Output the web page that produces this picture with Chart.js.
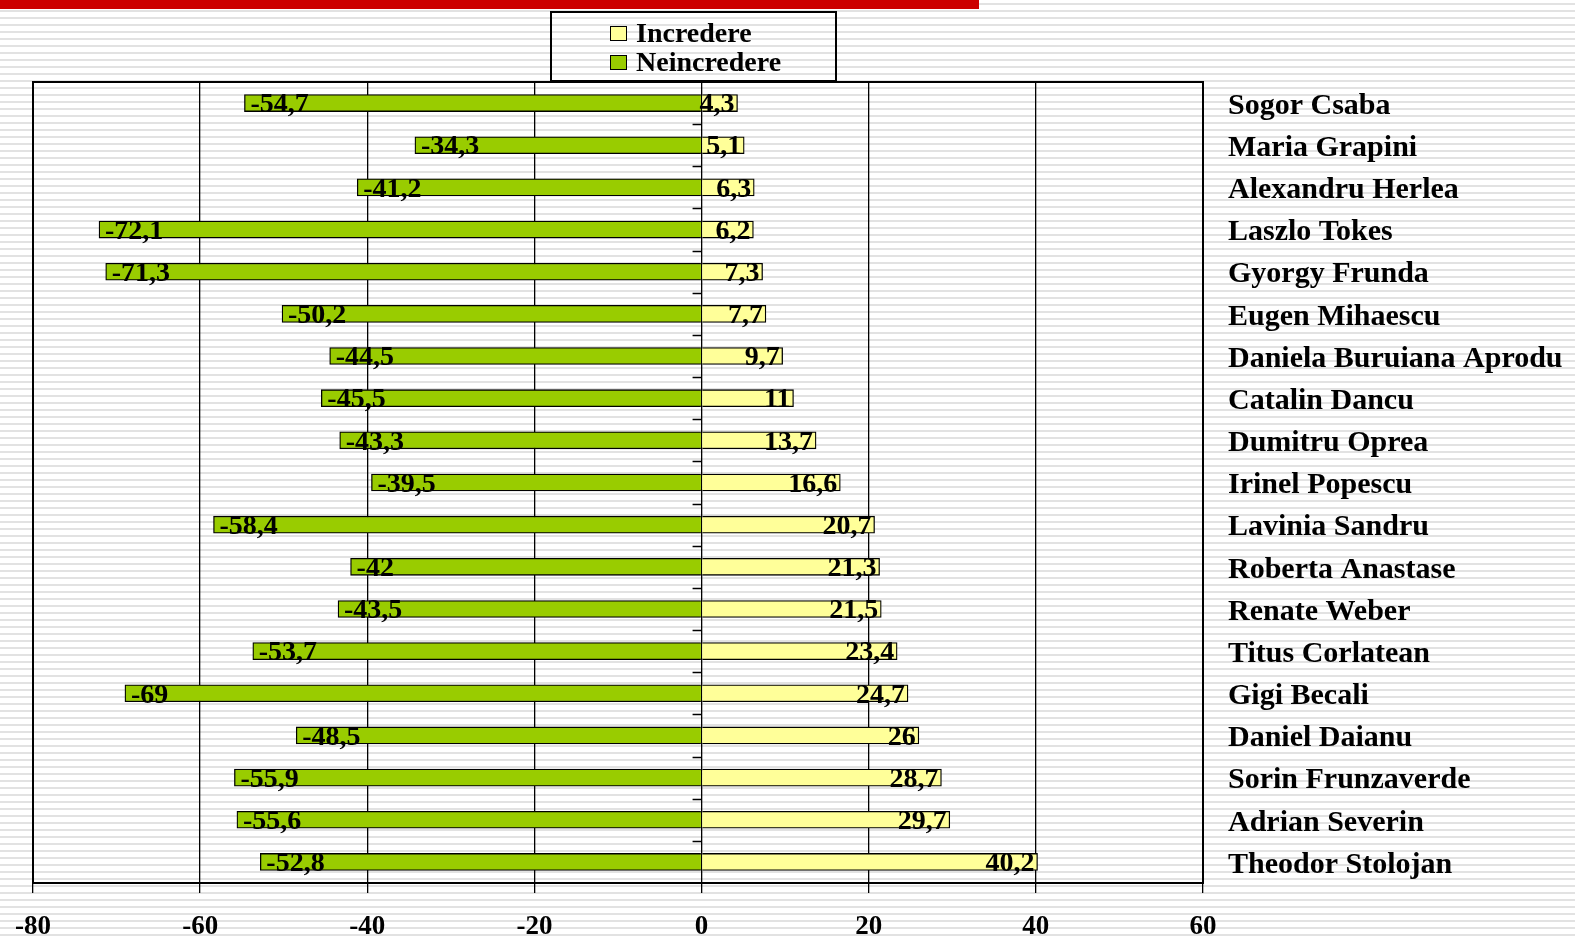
<!DOCTYPE html>
<html>
<head>
<meta charset="utf-8">
<script src="https://cdn.jsdelivr.net/npm/chart.js@4/dist/chart.umd.min.js"></script>
<style>
  html, body { margin: 0; padding: 0; background: #fff; }
  #wrap { position: relative; width: 1575px; height: 937px; }
  #legend {
    position: absolute; left: 550px; top: 11px; width: 283px; height: 67px;
    border: 2px solid #000; font: bold 28px "Liberation Serif", "Times New Roman", serif;
  }
  #legend div { position: absolute; left: 58px; height: 30px; line-height: 30px; }
  #legend span {
    display: inline-block; width: 15px; height: 13px; border: 1.5px solid #000;
    margin-right: 9px; vertical-align: 1px;
  }
</style>
</head>
<body>
<div id="wrap">
  <canvas id="chart" width="1575" height="937"></canvas>
  <div id="legend"></div>
</div>
<script>
// ---- data ----
const CATEGORIES = [
  'Sogor Csaba', 'Maria Grapini', 'Alexandru Herlea', 'Laszlo Tokes', 'Gyorgy Frunda',
  'Eugen Mihaescu', 'Daniela Buruiana Aprodu', 'Catalin Dancu', 'Dumitru Oprea',
  'Irinel Popescu', 'Lavinia Sandru', 'Roberta Anastase', 'Renate Weber',
  'Titus Corlatean', 'Gigi Becali', 'Daniel Daianu', 'Sorin Frunzaverde',
  'Adrian Severin', 'Theodor Stolojan'
];
const INCREDERE   = [4.3, 5.1, 6.3, 6.2, 7.3, 7.7, 9.7, 11, 13.7, 16.6, 20.7, 21.3, 21.5, 23.4, 24.7, 26, 28.7, 29.7, 40.2];
const NEINCREDERE = [-54.7, -34.3, -41.2, -72.1, -71.3, -50.2, -44.5, -45.5, -43.3, -39.5, -58.4, -42, -43.5, -53.7, -69, -48.5, -55.9, -55.6, -52.8];
const X_MIN = -80, X_MAX = 60, X_STEP = 20;

const SERIF = '"Liberation Serif", "Times New Roman", serif';
const YELLOW = '#FFFF99';
const GREEN  = '#99CC00';

const fmt = v => String(v).replace('.', ',');

// striped slide background + red strip + plot frame
const backdrop = {
  id: 'backdrop',
  beforeDraw(chart) {
    const ctx = chart.ctx;
    ctx.save();
    ctx.fillStyle = '#fff';
    ctx.fillRect(0, 0, chart.width, chart.height);
    ctx.fillStyle = '#e2e2e2';
    for (let y = 3; y < chart.height; y += 7) ctx.fillRect(0, y, chart.width, 2);
    ctx.fillStyle = '#cc0000';
    ctx.fillRect(0, 0, 979, 9);
    ctx.restore();
  },
  afterDatasetsDraw(chart) {
    const ctx = chart.ctx, a = chart.chartArea;
    const xs = chart.scales.x, ys = chart.scales.y;
    ctx.save();
    // small ticks on the category axis at 0
    const x0 = xs.getPixelForValue(0);
    ctx.strokeStyle = '#000';
    ctx.lineWidth = 1.5;
    ctx.beginPath();
    for (let i = 1; i < CATEGORIES.length; i++) {
      const y = Math.round((ys.getPixelForValue(i - 1) + ys.getPixelForValue(i)) / 2) + 0.5;
      ctx.moveTo(x0 - 9, y); ctx.lineTo(x0, y);
    }
    ctx.stroke();
    // frame
    ctx.lineWidth = 2;
    ctx.strokeRect(a.left, a.top, a.right - a.left, a.bottom - a.top);
    // value labels
    ctx.font = 'bold 28px ' + SERIF;
    ctx.fillStyle = '#000';
    ctx.textBaseline = 'middle';
    chart.data.datasets.forEach((ds, di) => {
      chart.getDatasetMeta(di).data.forEach((el, i) => {
        const v = ds.data[i];
        if (v < 0) { ctx.textAlign = 'left';  ctx.fillText(fmt(v), el.x + 6, el.y + 2); }
        else       { ctx.textAlign = 'right'; ctx.fillText(fmt(v), el.x - 3, el.y + 2); }
      });
    });
    ctx.restore();
  }
};

const chart = new Chart(document.getElementById('chart'), {
  type: 'bar',
  data: {
    labels: CATEGORIES,
    datasets: [
      { label: 'Incredere',   data: INCREDERE,   backgroundColor: YELLOW, borderColor: '#000', borderWidth: 1.3, barThickness: 17 },
      { label: 'Neincredere', data: NEINCREDERE, backgroundColor: GREEN,  borderColor: '#000', borderWidth: 1.3, barThickness: 17 }
    ]
  },
  options: {
    indexAxis: 'y',
    responsive: false,
    animation: false,
    layout: { padding: { left: 33, top: 82, right: 0, bottom: 0 } },
    plugins: { legend: { display: false }, tooltip: { enabled: false } },
    scales: {
      x: {
        type: 'linear', min: X_MIN, max: X_MAX, stacked: true,
        grid: { color: '#000', lineWidth: 1.3, tickLength: 10, tickColor: '#000' },
        border: { display: true, color: '#000', width: 2 },
        ticks: { stepSize: X_STEP, color: '#000', font: { family: SERIF, size: 27, weight: 'bold' }, padding: 18 },
        afterFit(s) { s.height = 54; s.paddingLeft = 0; s.paddingRight = 0; }
      },
      y: {
        position: 'right', stacked: true,
        grid: { display: false },
        border: { display: true, color: '#000', width: 2 },
        ticks: { color: '#000', font: { family: SERIF, size: 30, weight: 'bold' }, padding: 17, labelOffset: 3 },
        afterFit(s) { s.width = 372; }
      }
    }
  },
  plugins: [backdrop]
});

// legend box, items in the original order
const legend = document.getElementById('legend');
chart.data.datasets.forEach((ds, i) => {
  const row = document.createElement('div');
  row.style.top = (5 + i * 29) + 'px';
  row.innerHTML = '<span style="background:' + ds.backgroundColor + '"></span>' + ds.label;
  legend.appendChild(row);
});
</script>
</body>
</html>
